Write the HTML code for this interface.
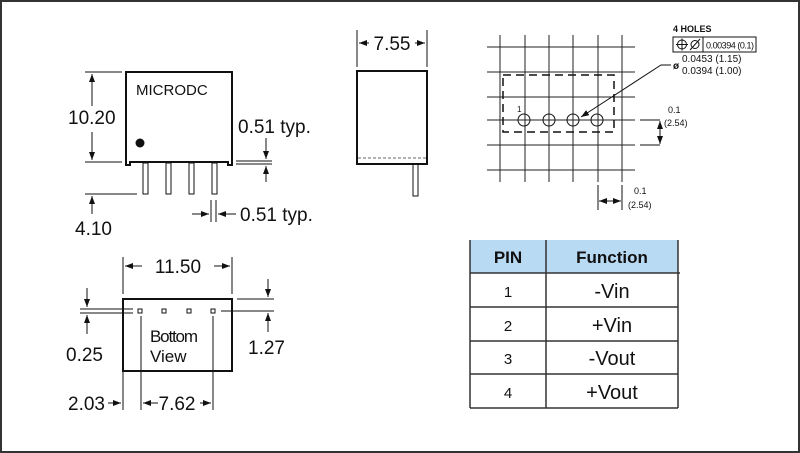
<!DOCTYPE html>
<html><head><style>body{margin:0;background:#fff}svg{display:block}text{font-family:"Liberation Sans",sans-serif;fill:#111}</style></head><body>
<svg width="800" height="453" viewBox="0 0 800 453" xmlns="http://www.w3.org/2000/svg">
<defs><marker id="a" markerWidth="8" markerHeight="6" refX="8" refY="3" orient="auto" markerUnits="userSpaceOnUse"><path d="M0,0 L8,3 L0,6z" fill="#111"/></marker></defs>
<rect x="1" y="1" width="798" height="451" fill="#fff" stroke="#333" stroke-width="2"/>
<g stroke="#111" fill="none" stroke-width="1">
<!-- front view -->
<path d="M126,72 H232 V165 H228 V162 H130 V165 H126Z" stroke-width="2"/>
<rect x="143" y="163" width="5" height="31"/><rect x="166" y="163" width="5" height="31"/><rect x="189" y="163" width="5" height="31"/><rect x="212" y="163" width="5" height="31"/>
<path d="M85,72H122M85,162H122M85,194H137"/>
<g marker-end="url(#a)">
<path d="M92,106V74"/><path d="M92,132V160"/>
<path d="M92,214V196"/>
<path d="M266,138V159"/><path d="M266,182V166"/>
<path d="M192,214H209"/><path d="M236,214H218"/>
<path d="M369,43H359"/><path d="M415,43H425"/>
<path d="M671,65H661L581,117"/>
<path d="M660,134V121"/><path d="M660,132V144"/>
<path d="M610,201H599"/><path d="M610,201H621"/>
<path d="M142,266H125"/><path d="M214,266H230"/>
<path d="M87,288V307"/><path d="M87,334V315"/>
<path d="M268,279V297"/><path d="M268,332V313"/>
<path d="M108,403H121"/><path d="M158,403H143"/><path d="M200,403H211"/>
</g>
<path d="M236,161H272M236,164H272"/>
<path d="M211,200V222M216,200V222"/>
<!-- side view -->
<rect x="357" y="71" width="70" height="93" stroke-width="2"/>
<path d="M358,158H426" stroke-dasharray="3,2" stroke="#666"/>
<rect x="413" y="164" width="5" height="32"/>
<path d="M357,30V67M427,30V67"/>
<!-- grid -->
<path d="M500,35V182M525,35V182M549,35V182M573,35V182M598,35V182M622,35V182M487,47H635M487,72H635M487,97H635M487,120H635M487,145H635M487,170H635" stroke="#222"/>
<rect x="503" y="75" width="111" height="57" stroke-dasharray="8,5" stroke-width="1.5"/>
<circle cx="524" cy="120" r="6"/><circle cx="549" cy="120" r="6"/><circle cx="573" cy="120" r="6"/><circle cx="597" cy="120" r="6"/>
<path d="M640,120H660M640,145H660"/>
<path d="M598,185V210M622,185V210"/>
<rect x="673" y="37" width="83" height="15"/><path d="M703,37V52"/>
<circle cx="682" cy="44.5" r="4.5"/><path d="M676,44.5H688M682,38.5V50.5"/>
<circle cx="695" cy="44.5" r="4"/><path d="M690,50L700,39"/>
<!-- bottom view -->
<rect x="123" y="299" width="109" height="72" stroke-width="2"/>
<rect x="138" y="309" width="4" height="4"/><rect x="162" y="309" width="4" height="4"/><rect x="187" y="309" width="4" height="4"/><rect x="211" y="309" width="4" height="4"/>
<path d="M123,257V294M232,257V294"/>
<path d="M80,309H133M80,313H133"/>
<path d="M237,299H274M221,311H274"/>
<path d="M123,371V410M141,316V410M213,316V410"/>
<!-- table -->
<rect x="470" y="240" width="208" height="33" fill="#b9daf3" stroke="none"/>
<path d="M470,240V408M546,240V408M678,240V408M470,273H680M470,307H678M470,341H678M470,374H678M470,408H678" stroke="#333" stroke-width="1.5"/>
</g>
<text x="136" y="95" font-size="15">MICRODC</text>
<circle cx="140" cy="143" r="4.5" fill="#111"/>
<text x="68" y="124" font-size="19">10.20</text>
<text x="75" y="235" font-size="19">4.10</text>
<text x="238" y="133" font-size="19">0.51 typ.</text>
<text x="240" y="221" font-size="19">0.51 typ.</text>
<text x="392" y="50" font-size="19" text-anchor="middle">7.55</text>
<text x="517" y="112" font-size="8">1</text>
<text x="673" y="32" font-size="9" font-weight="bold">4 HOLES</text>
<text x="706" y="48.5" font-size="9" textLength="48">0.00394 (0.1)</text>
<text x="673" y="69" font-size="10" font-weight="bold">ø</text>
<text x="682" y="62" font-size="10">0.0453 (1.15)</text>
<text x="682" y="74" font-size="10">0.0394 (1.00)</text>
<text x="668" y="113" font-size="9">0.1</text>
<text x="664" y="126" font-size="9">(2.54)</text>
<text x="634" y="194" font-size="9">0.1</text>
<text x="628" y="208" font-size="9">(2.54)</text>
<text x="178" y="273" font-size="19" text-anchor="middle">11.50</text>
<text x="150" y="342" font-size="17" textLength="48">Bottom</text>
<text x="150" y="362" font-size="17">View</text>
<text x="66" y="361" font-size="19">0.25</text>
<text x="248" y="354" font-size="19">1.27</text>
<text x="68" y="410" font-size="19">2.03</text>
<text x="177" y="410" font-size="19" text-anchor="middle">7.62</text>
<g font-size="17" font-weight="bold" text-anchor="middle"><text x="508" y="263">PIN</text><text x="612" y="263">Function</text></g>
<g font-size="15" text-anchor="middle"><text x="508" y="297">1</text><text x="508" y="331">2</text><text x="508" y="364">3</text><text x="508" y="398">4</text></g>
<g font-size="20" text-anchor="middle"><text x="612" y="298">-Vin</text><text x="612" y="332">+Vin</text><text x="612" y="365">-Vout</text><text x="612" y="399">+Vout</text></g>
</svg>
</body></html>
